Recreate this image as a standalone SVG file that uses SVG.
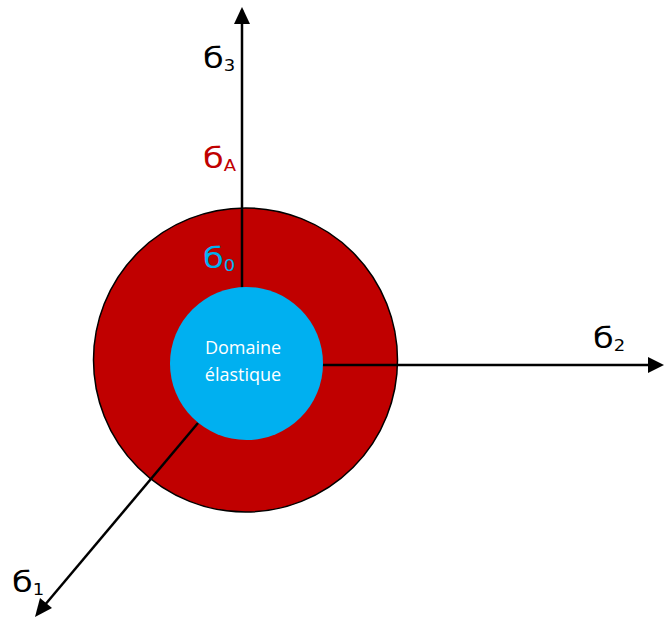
<svg xmlns="http://www.w3.org/2000/svg" width="672" height="618" viewBox="0 0 672 618">
<style>
.lbl{font-family:"DejaVu Sans","Liberation Sans",sans-serif;font-size:28px}
.sub{font-size:15px}
.axis{stroke:#000;stroke-width:2.5;fill:none}
.in{font-family:"Open Sans","Liberation Sans",sans-serif;font-size:18px;fill:#fff;text-anchor:middle}
</style>
<rect width="672" height="618" fill="#fff"/>
<g id="outer">
<circle cx="245.5" cy="360" r="152" fill="#C00000" stroke="#000" stroke-width="1.5"/>
</g>
<g id="connectors">
<line class="axis" x1="242" y1="290" x2="242" y2="10"/>
<path d="M242,7 L234,24 L250,24 Z" fill="#000"/>
<line class="axis" x1="320" y1="365" x2="650" y2="365"/>
<path d="M664,365 L648,357 L648,373 Z" fill="#000"/>
<line class="axis" x1="198" y1="423" x2="44" y2="606"/>
<path d="M35,617 L40,598 L52,608 Z" fill="#000"/>
</g>
<g id="inner">
<circle cx="246.5" cy="363.5" r="76.5" fill="#00B0F0"/>
<text class="in" x="243" y="354">Domaine</text>
<text class="in" x="243" y="381">élastique</text>
</g>
<g id="labels">
<text class="lbl" transform="translate(203,68) scale(1.2,1)">б<tspan class="sub" dy="3">3</tspan></text>
<text class="lbl" transform="translate(203,168) scale(1.2,1)" fill="#C00000">б<tspan class="sub" dy="3">A</tspan></text>
<text class="lbl" transform="translate(203,268) scale(1.2,1)" fill="#00B0F0">б<tspan class="sub" dy="3">0</tspan></text>
<text class="lbl" transform="translate(593,348) scale(1.2,1)">б<tspan class="sub" dy="3">2</tspan></text>
<text class="lbl" transform="translate(12,592) scale(1.2,1)">б<tspan class="sub" dy="3">1</tspan></text>
</g>
</svg>
